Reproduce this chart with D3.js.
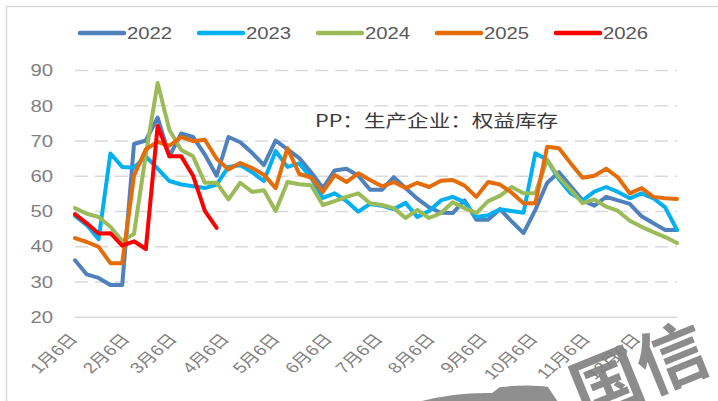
<!DOCTYPE html>
<html>
<head>
<meta charset="utf-8">
<script src="https://cdn.jsdelivr.net/npm/d3@7"></script>
<style>
  html, body { margin: 0; padding: 0; background: #fff; overflow: hidden; }
  svg { display: block; }
</style>
</head>
<body>
<svg id="chart" width="718" height="401"></svg>
<script>
// Weekly inventory series, one value per week starting from the first week of January
const years = ["2022", "2023", "2024", "2025", "2026"];
const colors = ["#4f81bd", "#00b0f0", "#9bbb59", "#e46c0a", "#ff0000"];

const v2022 = [36, 32, 31, 29, 29, 69, 70, 76.5, 65.5, 72, 71, 66, 60, 71, 69.5, 66.5, 63, 70, 67.5, 65,
  61, 56.5, 61.5, 62, 60, 56, 56, 59.6, 56.5, 53.5, 51, 49.5, 49.4, 53, 47.5, 47.5, 50.5, 47, 43.7, 50.3,
  58, 61, 57, 53, 51.5, 54, 53, 52, 48.5, 46.5, 44.6, 44.6];
const v2023 = [48.6, 46, 42, 66.3, 62.5, 62.3, 65.5, 62, 58.5, 57.5, 57, 56.5, 57.5, 62.5, 63, 61, 58.5, 67, 62.5, 63.5,
  59.5, 53.7, 55, 52.8, 49.8, 52, 51.5, 50.5, 52.3, 48.3, 50, 53, 54, 52.5, 48.3, 48.8, 50.5, 50, 49.5, 66.4,
  64.5, 59, 55, 53, 55.5, 56.8, 55.4, 53.6, 55, 53.6, 51, 44.6];
const v2024 = [50.8, 49.2, 48.3, 45.5, 41.5, 43.5, 66, 86.3, 73, 67.3, 65.5, 58, 58, 53.3, 58, 55.4, 55.9, 50, 58.2, 57.6,
  57.3, 51.7, 52.8, 54, 55, 52.2, 51.7, 50.8, 48, 50.3, 48, 49.4, 52.5, 50.8, 49.4, 52.8, 54.3, 56.8, 55, 55,
  64.5, 59.5, 56, 52.2, 53.3, 51.2, 50, 47.2, 45.5, 44, 42.6, 40.9];
const v2025 = [42.3, 41.2, 39.8, 35.2, 35.2, 60, 67.5, 69.6, 68.5, 71, 69.8, 70.2, 64.8, 61.8, 63.6, 62.2, 60.3, 56.5, 67.8, 60.5,
  59.5, 55.4, 60.2, 58.2, 60.7, 58.8, 57, 58.2, 56.5, 58, 56.8, 58.6, 58.8, 57.2, 54, 58.2, 57.5, 55.2, 52.2, 52.2,
  68.2, 67.8, 63.5, 59.4, 60, 62, 59.5, 55, 56.5, 54, 53.6, 53.4];
const v2026 = [49.1, 46.5, 43.6, 43.7, 40.2, 41.4, 39.2, 74.1, 65.5, 65.5, 60, 50, 45.2];

const seriesValues = [v2022, v2023, v2024, v2025, v2026];

const monthLabels = ["1月6日", "2月6日", "3月6日", "4月6日", "5月6日", "6月6日",
  "7月6日", "8月6日", "9月6日", "10月6日", "11月6日", "12月6日"];
const yTicks = [20, 30, 40, 50, 60, 70, 80, 90];
const titleText = "PP：生产企业：权益库存";
const markText = "国信";

// ---- layout ----
const svg = d3.select("#chart");
const SX = 1.27;                       // horizontal text stretch
const plotLeft = 75, plotRight = 677, plotTop = 70, plotBottom = 316.7;
const latin = "'Liberation Sans', Arial, 'Noto Sans CJK SC', sans-serif";
const cjk = "'Noto Sans CJK SC', 'Liberation Sans', sans-serif";

const weekStart = new Date(2025, 0, 6);
const weekDate = i => d3.timeDay.offset(weekStart, 7 * i);

const x = d3.scaleTime()
  .domain([weekStart, weekDate(51)])
  .range([plotLeft, plotRight]);
const y = d3.scaleLinear().domain([20, 90]).range([plotBottom, plotTop]);

// chart frame
svg.append("rect")
  .attr("x", 6.5).attr("y", 6.5).attr("width", 800).attr("height", 500)
  .attr("fill", "#fff").attr("stroke", "#d9d9d9").attr("stroke-width", 1.5);

// y axis with dashed gridlines
const yAxis = svg.append("g")
  .attr("transform", `translate(${plotLeft},0)`)
  .call(d3.axisLeft(y).tickValues(yTicks).tickSize(-(plotRight - plotLeft)).tickFormat(d3.format("d")));
yAxis.select(".domain").remove();
yAxis.selectAll(".tick line")
  .attr("stroke", "#d9d9d9").attr("stroke-width", 1.5)
  .attr("stroke-dasharray", d => d === 20 ? null : "13,7");
yAxis.selectAll(".tick text")
  .attr("x", 0).attr("dy", "0.36em")
  .attr("transform", `translate(-22,0) scale(${SX},1)`)
  .attr("fill", "#7f7f7f")
  .style("font-family", latin).style("font-size", "16px");

// x axis with rotated month labels
const monthDates = monthLabels.map((_, m) => new Date(2025, m, 6));
const xAxis = svg.append("g")
  .attr("transform", `translate(0,${plotBottom})`)
  .call(d3.axisBottom(x).tickValues(monthDates).tickSize(0).tickFormat((d, i) => monthLabels[i]));
xAxis.select(".domain").remove();
xAxis.selectAll(".tick text")
  .attr("x", 0).attr("y", 0).attr("dy", 0)
  .attr("text-anchor", "end")
  .attr("transform", `translate(3,23) scale(${SX},1) rotate(-48)`)
  .attr("fill", "#7f7f7f")
  .style("font-family", latin).style("font-size", "15px");

// series lines
const line = d3.line()
  .x((d, i) => x(weekDate(i)))
  .y(d => y(d));

svg.append("g")
  .selectAll("path")
  .data(seriesValues)
  .join("path")
  .attr("d", line)
  .attr("fill", "none")
  .attr("stroke", (d, i) => colors[i])
  .attr("stroke-width", 4)
  .attr("stroke-linejoin", "round")
  .attr("stroke-linecap", "round");

// in-plot title
svg.append("text")
  .attr("transform", `translate(315,127) scale(${SX},1)`)
  .attr("fill", "#3a3a3a")
  .style("font-family", cjk).style("font-size", "17px")
  .text(titleText);

// legend
const legend = svg.append("g").selectAll("g")
  .data(years)
  .join("g")
  .attr("transform", (d, i) => `translate(${80 + i * 119},33)`);
legend.append("line")
  .attr("x1", 0).attr("x2", 44).attr("y1", 0).attr("y2", 0)
  .attr("stroke", (d, i) => colors[i]).attr("stroke-width", 4.5)
  .attr("stroke-linecap", "round");
legend.append("text")
  .attr("transform", `translate(47,6) scale(${SX},1)`)
  .attr("fill", "#595959")
  .style("font-family", latin).style("font-size", "16px")
  .text(d => d);

// corner mark
svg.append("path")
  .attr("d", "M418,402 Q455,392 492,393 L500,387 Q530,384 548,387 L558,402 Z")
  .attr("fill", "#8f8f8f");
svg.append("text")
  .attr("transform", "translate(584,421) rotate(-22)")
  .attr("fill", "#7f7f7f").attr("fill-opacity", 0.9)
  .style("font-family", cjk).style("font-size", "70px").style("font-weight", "bold")
  .text(markText);
</script>
</body>
</html>
